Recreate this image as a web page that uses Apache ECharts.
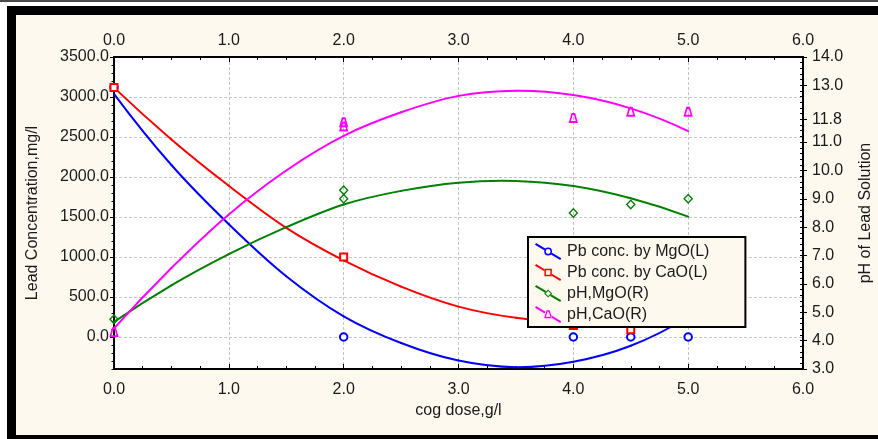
<!DOCTYPE html>
<html><head><meta charset="utf-8">
<script src="https://cdn.jsdelivr.net/npm/echarts@6/dist/echarts.min.js"></script>
<style>html,body{margin:0;padding:0;background:#fff}#c{width:878px;height:439px}</style>
</head><body><div id="c"></div>
<script>
// ---------- data ----------
const seriesNames = ['Pb conc. by MgO(L)', 'Pb conc. by CaO(L)', 'pH,MgO(R)', 'pH,CaO(R)'];
const leftTickValues = [0, 500, 1000, 1500, 2000, 2500, 3000, 3500];
const rightTickValues = [3, 4, 5, 6, 7, 8, 9, 10, 11, 11.8, 13, 14];

// measured points
const pbMgODose = [0, 2, 4, 4.5, 5];
const pbMgOValues = [3120, 0, 0, 0, 0];
const pbCaODose = [0, 2, 4, 4.5];
const pbCaOValues = [3120, 1000, 145, 90];
const phMgODose = [0, 2, 2, 4, 4.5, 5];
const phMgOValues = [4.75, 9.3, 9.0, 8.5, 8.8, 9.0];
const phCaODose = [0, 2, 2, 4, 4.5, 5];
const phCaOValues = [4.3, 11.7, 11.55, 11.85, 12.07, 12.07];

// fitted curves, read at these doses
const fitDose = [0, 0.5, 1, 1.5, 2, 2.5, 3, 3.5, 4, 4.5, 5];
const fitPbMgO = [3040, 2150, 1410, 760, 259, -75, -295, -378, -310, -110, 250];
const fitPbCaO = [3117, 2470, 1890, 1365, 958, 630, 380, 240, 185, 188, 215];
const fitPhMgO = [4.66, 5.95, 7.05, 8.0, 8.8, 9.28, 9.57, 9.63, 9.45, 9.02, 8.37];
const fitPhCaO = [4.43, 6.56, 8.45, 10.0, 11.22, 12.05, 12.63, 12.81, 12.66, 12.19, 11.39];

// ---------- styling ----------
const colors = ['#0000ff', '#ff0000', '#008000', '#ff00ff'];
const FONT = 'Liberation Sans, Arial, sans-serif';
const TXT = '#1a1a1a';
const fmt = v => Number(v).toFixed(1);
const pair = (xs, ys) => xs.map((x, i) => [x, ys[i]]);
const gridLine = { show: true, lineStyle: { color: '#c4c4c4', width: 1, type: [3, 2] } };
const blackLine = { show: true, onZero: false, lineStyle: { color: '#000', width: 2 } };
const noLine = { show: false, onZero: false };
const tickStyle = { color: '#000', width: 1 };
const trapPath = 'path://M2.6,0 L5.4,0 L8,9 L0,9 Z';

// smooth curve through the series' own points (cubic Hermite, drawn via api.coord)
function curveRenderer(color) {
  return function (params, api) {
    if (params.dataIndexInside !== 0) return null;
    const n = params.dataInsideLength;
    const xs = [], ys = [];
    for (let i = 0; i < n; i++) { xs.push(api.value(0, i)); ys.push(api.value(1, i)); }
    const m = [];
    for (let i = 0; i < n; i++) {
      if (i === 0) m.push((-3 * ys[0] + 4 * ys[1] - ys[2]) / (xs[2] - xs[0]));
      else if (i === n - 1) m.push((3 * ys[n - 1] - 4 * ys[n - 2] + ys[n - 3]) / (xs[n - 1] - xs[n - 3]));
      else m.push((ys[i + 1] - ys[i - 1]) / (xs[i + 1] - xs[i - 1]));
    }
    const children = [];
    for (let i = 0; i < n - 1; i++) {
      const h = xs[i + 1] - xs[i];
      const p0 = api.coord([xs[i], ys[i]]);
      const p1 = api.coord([xs[i] + h / 3, ys[i] + m[i] * h / 3]);
      const p2 = api.coord([xs[i + 1] - h / 3, ys[i + 1] - m[i + 1] * h / 3]);
      const p3 = api.coord([xs[i + 1], ys[i + 1]]);
      children.push({
        type: 'bezierCurve',
        shape: { x1: p0[0], y1: p0[1], cpx1: p1[0], cpy1: p1[1], cpx2: p2[0], cpy2: p2[1], x2: p3[0], y2: p3[1] },
        style: { stroke: color, lineWidth: 2, fill: 'none', lineCap: 'round' }
      });
    }
    return { type: 'group', children: children };
  };
}

// legend icons: diagonal line with hollow marker
const IW = 28, IH = 17, HYP = Math.hypot(IW, IH);
const ux = IW / HYP, uy = IH / HYP, nx = -uy, ny = ux, T = 1.0;
const cx = IW / 2, cy = IH / 2, sc = HYP / 2;
const r2 = v => Math.round(v * 100) / 100;
function seg(s0, s1) {
  const p = [s0 * ux, s0 * uy], q = [s1 * ux, s1 * uy];
  return 'M' + r2(p[0] + nx * T) + ',' + r2(p[1] + ny * T) +
    'L' + r2(q[0] + nx * T) + ',' + r2(q[1] + ny * T) +
    'L' + r2(q[0] - nx * T) + ',' + r2(q[1] - ny * T) +
    'L' + r2(p[0] - nx * T) + ',' + r2(p[1] - ny * T) + 'Z';
}
function bands(r) { return seg(1.7, sc - r) + seg(sc + r, HYP - 1.7); }
function poly(pts) { return 'M' + pts.map(p => r2(p[0]) + ',' + r2(p[1])).join('L') + 'Z'; }
const R = 3.9, r = 2.4;
const circleIcon = 'path://' + bands(R) +
  'M' + cx + ',' + r2(cy - R) + 'A' + R + ',' + R + ' 0 1,1 ' + r2(cx - 0.01) + ',' + r2(cy - R) + 'Z' +
  'M' + cx + ',' + r2(cy - r) + 'A' + r + ',' + r + ' 0 1,0 ' + r2(cx + 0.01) + ',' + r2(cy - r) + 'Z';
const sqA = 3.7, sqB = 2.2;
const squareIcon = 'path://' + bands(sqA / ux) +
  poly([[cx - sqA, cy - sqA], [cx + sqA, cy - sqA], [cx + sqA, cy + sqA], [cx - sqA, cy + sqA]]) +
  poly([[cx - sqB, cy - sqB], [cx - sqB, cy + sqB], [cx + sqB, cy + sqB], [cx + sqB, cy - sqB]]);
const dA = 4.0, dB = 2.6;
const diamondIcon = 'path://' + bands(dA / (ux + uy)) +
  poly([[cx, cy - dA], [cx + dA, cy], [cx, cy + dA], [cx - dA, cy]]) +
  poly([[cx, cy - dB], [cx - dB, cy], [cx, cy + dB], [cx + dB, cy]]);
const trapIcon = 'path://' + bands(3.6) +
  poly([[cx - 1.5, cy - 4.3], [cx + 1.5, cy - 4.3], [cx + 4, cy + 3.7], [cx - 4, cy + 3.7]]) +
  poly([[cx - 0.6, cy - 2.7], [cx - 2.2, cy + 2.3], [cx + 2.2, cy + 2.3], [cx + 0.6, cy - 2.7]]);
const legendIcons = [circleIcon, squareIcon, diamondIcon, trapIcon];

const labelStyle = { color: TXT, fontSize: 16, fontFamily: FONT, formatter: fmt };
const nameStyle = { color: TXT, fontSize: 16, fontFamily: FONT };

const fits = [fitPbMgO, fitPbCaO, fitPhMgO, fitPhCaO];
const fitAxis = [0, 0, 1, 1];
const curveSeries = fits.map((f, i) => ({
  name: seriesNames[i], type: 'custom', coordinateSystem: 'cartesian2d', xAxisIndex: 0, yAxisIndex: fitAxis[i],
  data: pair(fitDose, f), renderItem: curveRenderer(colors[i]), itemStyle: { color: colors[i] }, z: 2, silent: true
}));

const option = {
  animation: false,
  backgroundColor: '#fdf9ef',
  graphic: [
    { type: 'rect', silent: true, shape: { x: 0, y: 0, width: 878, height: 15 }, style: { fill: '#fff' } },
    { type: 'rect', silent: true, shape: { x: 0, y: 0, width: 16, height: 439 }, style: { fill: '#fff' } },
    { type: 'rect', silent: true, shape: { x: 0, y: 0, width: 878, height: 2 }, style: { fill: '#4a4a4a' } },
    { type: 'rect', silent: true, shape: { x: 7, y: 6, width: 871, height: 9 }, style: { fill: '#000' } },
    { type: 'rect', silent: true, shape: { x: 7, y: 6, width: 9, height: 433 }, style: { fill: '#000' } },
    { type: 'rect', silent: true, shape: { x: 7, y: 435, width: 871, height: 4 }, style: { fill: '#000' } }
  ],
  grid: { left: 114, right: 75, top: 57, bottom: 70, show: true, backgroundColor: '#fff', borderWidth: 0, containLabel: false, outerBoundsMode: 'none' },
  legend: {
    left: 528, top: 237, orient: 'vertical', z: 20,
    padding: [6, 36, 4, 7], itemWidth: IW, itemHeight: IH, itemGap: 4,
    backgroundColor: '#fdf9ef', borderColor: '#000', borderWidth: 2,
    selectedMode: false,
    textStyle: { color: TXT, fontSize: 16, fontFamily: FONT },
    data: seriesNames.map((n, i) => ({ name: n, icon: legendIcons[i], itemStyle: { color: colors[i], borderWidth: 0 } }))
  },
  xAxis: [
    { type: 'value', position: 'bottom', min: 0, max: 6, interval: 1,
      axisLine: blackLine, axisTick: { inside: true, length: 5, lineStyle: tickStyle },
      axisLabel: Object.assign({ margin: 13 }, labelStyle), splitLine: gridLine,
      name: 'cog dose,g/l', nameLocation: 'middle', nameGap: 34, nameTextStyle: nameStyle },
    { type: 'value', position: 'top', min: 0, max: 6, interval: 1,
      axisLine: blackLine, axisTick: { inside: true, length: 5, lineStyle: tickStyle },
      axisLabel: Object.assign({ margin: 8 }, labelStyle), splitLine: { show: false } },
    { type: 'value', position: 'bottom', min: 0, max: 6, interval: 0.25,
      axisLine: noLine, axisTick: { inside: true, length: 3, lineStyle: tickStyle },
      axisLabel: { show: false }, splitLine: { show: false } },
    { type: 'value', position: 'top', min: 0, max: 6, interval: 0.25,
      axisLine: noLine, axisTick: { inside: true, length: 3, lineStyle: tickStyle },
      axisLabel: { show: false }, splitLine: { show: false } }
  ],
  yAxis: [
    { type: 'value', position: 'left', min: -400, max: 3500,
      axisLine: blackLine,
      axisTick: { show: true, customValues: leftTickValues, length: 4, lineStyle: tickStyle },
      axisLabel: Object.assign({ margin: 5, customValues: leftTickValues }, labelStyle),
      splitLine: Object.assign({ customValues: leftTickValues }, gridLine),
      name: 'Lead Concentration,mg/l', nameLocation: 'middle', nameGap: 73, nameRotate: 90, nameTextStyle: nameStyle },
    { type: 'value', position: 'right', min: 3, max: 14,
      axisLine: blackLine,
      axisTick: { show: true, customValues: rightTickValues, length: 4, lineStyle: tickStyle },
      axisLabel: Object.assign({ margin: 9, customValues: rightTickValues }, labelStyle),
      splitLine: { show: false },
      name: 'pH of Lead Solution', nameLocation: 'middle', nameGap: 55, nameRotate: 90, nameTextStyle: nameStyle },
    { type: 'value', position: 'left', min: -400, max: 3500, interval: 100,
      axisLine: noLine, axisTick: { show: true, length: 2.5, lineStyle: tickStyle },
      axisLabel: { show: false }, splitLine: { show: false } },
    { type: 'value', position: 'right', min: 3, max: 14, interval: 0.2,
      axisLine: noLine, axisTick: { show: true, inside: true, length: 3, lineStyle: tickStyle },
      axisLabel: { show: false }, splitLine: { show: false } }
  ],
  series: curveSeries.concat([
    { name: seriesNames[0], type: 'scatter', xAxisIndex: 0, yAxisIndex: 0, data: pair(pbMgODose, pbMgOValues),
      symbol: 'circle', symbolSize: 7.5, itemStyle: { color: '#fff', borderColor: colors[0], borderWidth: 2, opacity: 1 }, z: 3 },
    { name: seriesNames[1], type: 'scatter', xAxisIndex: 0, yAxisIndex: 0, data: pair(pbCaODose, pbCaOValues),
      symbol: 'rect', symbolSize: 7, itemStyle: { color: '#fff', borderColor: colors[1], borderWidth: 2, opacity: 1 }, z: 3 },
    { name: seriesNames[2], type: 'scatter', xAxisIndex: 0, yAxisIndex: 1, data: pair(phMgODose, phMgOValues),
      symbol: 'diamond', symbolSize: [8, 8.5], itemStyle: { color: 'rgba(0,0,0,0)', borderColor: colors[2], borderWidth: 1.4, opacity: 1 }, z: 3 },
    { name: seriesNames[3], type: 'scatter', xAxisIndex: 0, yAxisIndex: 1, data: pair(phCaODose, phCaOValues),
      symbol: trapPath, symbolSize: [7, 8], itemStyle: { color: 'rgba(0,0,0,0)', borderColor: colors[3], borderWidth: 1.8, opacity: 1 }, z: 3 }
  ])
};
const chart = echarts.init(document.getElementById('c'), null, { renderer: 'canvas' });
chart.setOption(option);
</script>
</body></html>
